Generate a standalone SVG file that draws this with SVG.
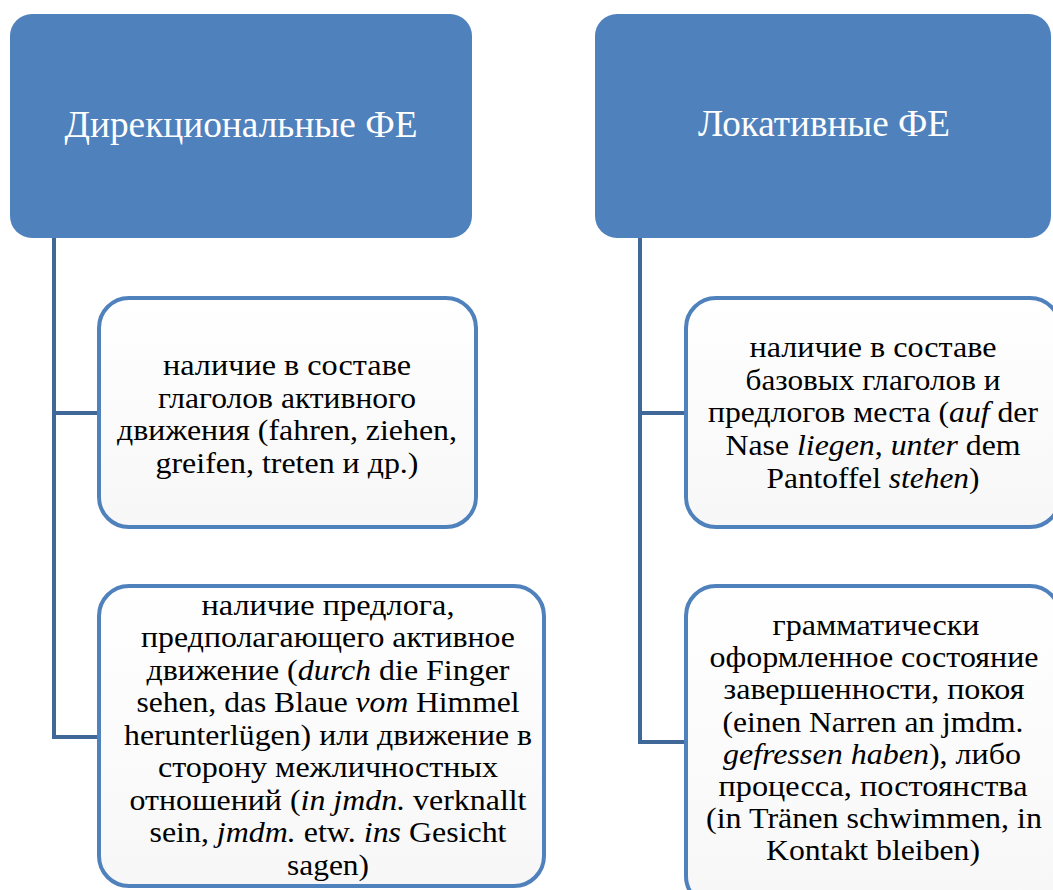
<svg xmlns="http://www.w3.org/2000/svg" width="1053" height="890" viewBox="0 0 1053 890">
<style>
.head{fill:#4F81BD;}
.box{fill:url(#g);stroke:#4F81BD;stroke-width:4;}
.ht{font-family:'Liberation Serif','Times New Roman',serif;font-size:37px;fill:#ffffff;text-anchor:middle;}
.bt{font-family:'Liberation Serif','Times New Roman',serif;font-size:28.5px;fill:#000000;text-anchor:middle;}
.i{font-style:italic;}
.con{fill:none;stroke:#3F6898;stroke-width:4;}
</style>
<defs>
<linearGradient id="g" x1="0" y1="0" x2="0" y2="1">
<stop offset="0" stop-color="#ffffff"/>
<stop offset="1" stop-color="#f7f7f7"/>
</linearGradient>
</defs>
<rect width="1053" height="890" fill="#ffffff"/>
<g id="connectors">
<path class="con" d="M54 238 V737 H100 M54 413 H100"/>
<path class="con" d="M640 238 V742 H686 M640 413 H686"/>
</g>
<g id="n1">
<rect class="head" x="10" y="14" width="462" height="224" rx="22"/>
<text class="ht" x="241" y="137" textLength="353" lengthAdjust="spacingAndGlyphs">Дирекциональные ФЕ</text>
</g>
<g id="n2">
<rect class="head" x="595" y="14" width="456" height="224" rx="22"/>
<text class="ht" x="824" y="136" textLength="252" lengthAdjust="spacingAndGlyphs">Локативные ФЕ</text>
</g>
<g id="n3">
<rect class="box" x="99" y="298" width="377" height="229" rx="30"/>
<text class="bt" x="287" y="375" textLength="248" lengthAdjust="spacingAndGlyphs">наличие в составе</text>
<text class="bt" x="287" y="408" textLength="258" lengthAdjust="spacingAndGlyphs">глаголов активного</text>
<text class="bt" x="287" y="440" textLength="340" lengthAdjust="spacingAndGlyphs">движения (fahren, ziehen,</text>
<text class="bt" x="287" y="473" textLength="263" lengthAdjust="spacingAndGlyphs">greifen, treten и др.)</text>
</g>
<g id="n4">
<rect class="box" x="99" y="586" width="445" height="300" rx="30"/>
<text class="bt" x="328" y="615" textLength="253" lengthAdjust="spacingAndGlyphs">наличие предлога,</text>
<text class="bt" x="328" y="647" textLength="374" lengthAdjust="spacingAndGlyphs">предполагающего активное</text>
<text class="bt" x="328" y="680" textLength="363" lengthAdjust="spacingAndGlyphs">движение (<tspan class="i">durch</tspan> die Finger</text>
<text class="bt" x="328" y="712" textLength="383" lengthAdjust="spacingAndGlyphs">sehen, das Blaue <tspan class="i">vom</tspan> Himmel</text>
<text class="bt" x="328" y="745" textLength="408" lengthAdjust="spacingAndGlyphs">herunterlügen) или движение в</text>
<text class="bt" x="328" y="777" textLength="340" lengthAdjust="spacingAndGlyphs">сторону межличностных</text>
<text class="bt" x="328" y="810" textLength="397" lengthAdjust="spacingAndGlyphs">отношений (<tspan class="i">in jmdn.</tspan> verknallt</text>
<text class="bt" x="328" y="842" textLength="357" lengthAdjust="spacingAndGlyphs">sein, <tspan class="i">jmdm.</tspan> etw. <tspan class="i">ins</tspan> Gesicht</text>
<text class="bt" x="328" y="875" textLength="82" lengthAdjust="spacingAndGlyphs">sagen)</text>
</g>
<g id="n5">
<rect class="box" x="686" y="298" width="374" height="229" rx="30"/>
<text class="bt" x="873" y="357" textLength="247" lengthAdjust="spacingAndGlyphs">наличие в составе</text>
<text class="bt" x="873" y="390" textLength="255" lengthAdjust="spacingAndGlyphs">базовых глаголов и</text>
<text class="bt" x="873" y="422" textLength="330" lengthAdjust="spacingAndGlyphs">предлогов места (<tspan class="i">auf</tspan> der</text>
<text class="bt" x="873" y="455" textLength="295" lengthAdjust="spacingAndGlyphs">Nase <tspan class="i">liegen</tspan>, <tspan class="i">unter</tspan> dem</text>
<text class="bt" x="873" y="488" textLength="213" lengthAdjust="spacingAndGlyphs">Pantoffel <tspan class="i">stehen</tspan>)</text>
</g>
<g id="n6">
<rect class="box" x="686" y="586" width="374" height="320" rx="30"/>
<text class="bt" x="876" y="635" textLength="207" lengthAdjust="spacingAndGlyphs">грамматически</text>
<text class="bt" x="874" y="667" textLength="329" lengthAdjust="spacingAndGlyphs">оформленное состояние</text>
<text class="bt" x="874" y="699" textLength="301" lengthAdjust="spacingAndGlyphs">завершенности, покоя</text>
<text class="bt" x="873" y="732" textLength="301" lengthAdjust="spacingAndGlyphs">(einen Narren an jmdm.</text>
<text class="bt" x="872" y="764" textLength="298" lengthAdjust="spacingAndGlyphs"><tspan class="i">gefressen haben</tspan>), либо</text>
<text class="bt" x="873" y="796" textLength="309" lengthAdjust="spacingAndGlyphs">процесса, постоянства</text>
<text class="bt" x="874" y="828" textLength="336" lengthAdjust="spacingAndGlyphs">(in Tränen schwimmen, in</text>
<text class="bt" x="873" y="860" textLength="214" lengthAdjust="spacingAndGlyphs">Kontakt bleiben)</text>
</g>
</svg>
